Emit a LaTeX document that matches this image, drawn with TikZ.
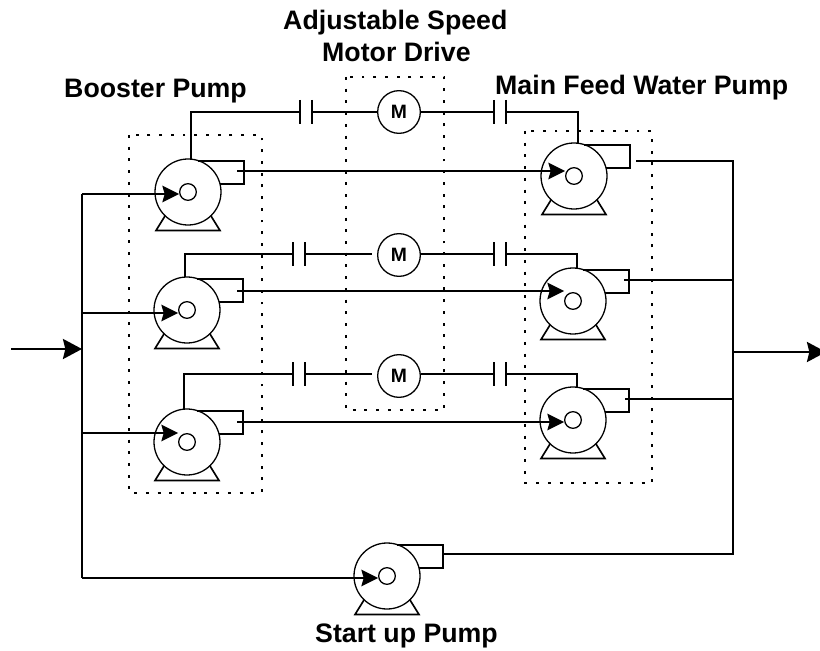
\documentclass[tikz,border=0pt]{standalone}
\usepackage{fontspec}
\setmainfont{Liberation Sans}
\usetikzlibrary{arrows.meta, calc}
\tikzset{
  wire/.style={line width=1.4pt},
  flow/.style={line width=1.4pt, -{Stealth[length=5mm, width=5mm, inset=0.7mm]}},
  trunk/.style={line width=2.2pt, -{Stealth[length=5.7mm, width=6mm, inset=0.7mm]}},
  group/.style={line width=1.7pt, dash pattern=on 2.5pt off 7.5pt},
  casing/.style={circle, draw, line width=1.1pt, minimum size=1.98cm, inner sep=0pt},
  hub/.style={circle, draw, line width=1.1pt, minimum size=0.5cm, inner sep=0pt},
  motor/.style={circle, draw, line width=1.1pt, minimum size=1.28cm, inner sep=0pt, font=\bfseries\fontsize{16.5}{16.5}\selectfont},
  caption/.style={font=\bfseries\fontsize{22.8}{26}\selectfont, anchor=base west, inner sep=0pt},
}
% pump symbol: name, centre x, centre y
\newcommand{\pumpsym}[3]{
  \node[casing] (#1) at (#2,#3) {};
  \node[hub] (#1hub) at (#2,#3) {};
  \draw[wire] ($(#1)+(10,-31)$) -- ++(46,0) -- ++(0,23) -- ++(-24,0);
  \draw[wire] ($(#1)+(-23,24)$) -- ($(#1)+(-32,38.5)$) -- ($(#1)+(32,38.5)$) -- ($(#1)+(23,24)$);
}
% clutch plates: name, x of left plate, y
\newcommand{\clutch}[3]{
  \coordinate (#1l) at (#2,#3);
  \coordinate (#1r) at (#2+12,#3);
  \draw[wire] (#2,#3-12) -- (#2,#3+12);
  \draw[wire] (#2+12,#3-12) -- (#2+12,#3+12);
}
\begin{document}
\begin{tikzpicture}[x=0.03cm, y=-0.03cm]
\useasboundingbox (0,0) rectangle (820,651);
% dotted groups
\draw[group] (129,135) rectangle (262,493);
\draw[group] (346,77) rectangle (444,410);
\draw[group] (525,131) rectangle (652,483);
% booster pumps
\pumpsym{boostA}{188}{192}
\pumpsym{boostB}{187}{310}
\pumpsym{boostC}{187}{442}
% main feed pumps
\pumpsym{feedA}{574}{176}
\pumpsym{feedB}{573}{301}
\pumpsym{feedC}{573}{420}
% start up pump
\pumpsym{startup}{387}{576}
% motors and clutches
\foreach \n/\y in {A/112, B/255, C/376} {
  \node[motor] (motor\n) at (399,\y) {M};
}
\clutch{lA}{300}{112}
\clutch{rA}{494}{112}
\clutch{lB}{293}{254}
\clutch{rB}{494}{254}
\clutch{lC}{293}{374}
\clutch{rC}{494}{374}
% shafts
\coordinate (shaftA) at (191,160);
\coordinate (shaftB) at (185,277);
\coordinate (shaftC) at (184,409);
\coordinate (shaftD) at (578,143);
\coordinate (shaftE) at (577,268);
\coordinate (shaftF) at (577,387);
\draw[wire] (shaftA) -- (shaftA |- lAl) -- (lAl);
\draw[wire] (lAr) -- (motorA.west |- lAr);
\draw[wire] (motorA.east |- rAl) -- (rAl);
\draw[wire] (rAr) -- (shaftD |- rAr) -- (shaftD);
\draw[wire] (shaftB) -- (shaftB |- lBl) -- (lBl);
\draw[wire] (lBr) -- ($(motorB.west |- lBr)+(-5,0)$);
\draw[wire] (motorB.east |- rBl) -- (rBl);
\draw[wire] (rBr) -- (shaftE |- rBr) -- (shaftE);
\draw[wire] (shaftC) -- (shaftC |- lCl) -- (lCl);
\draw[wire] (lCr) -- ($(motorC.west |- lCr)+(-5,0)$);
\draw[wire] (motorC.east |- rCl) -- (rCl);
\draw[wire] (rCr) -- (shaftF |- rCr) -- (shaftF);
% suction header
\coordinate (inlet) at (11,349);
\coordinate (inhead) at (82,349);
\coordinate (outhead) at (733,352);
\coordinate (outlet) at (826,352);
\coordinate (sucA) at (82,194);
\coordinate (sucB) at (82,313);
\coordinate (sucC) at (82,433);
\coordinate (sucS) at (82,578);
\draw[trunk] (inlet) -- (inhead);
\draw[wire] (sucA) -- (sucS);
\draw[flow] (sucA) -- (boostAhub.west |- sucA);
\draw[flow] (sucB) -- (boostBhub.west |- sucB);
\draw[flow] (sucC) -- (boostChub.west |- sucC);
\draw[flow] (sucS) -- (startuphub.west |- sucS);
% booster to main feed
\coordinate (dischA) at (237,171);
\coordinate (dischB) at (237,291);
\coordinate (dischC) at (237,422);
\draw[flow] (dischA) -- (feedAhub.west |- dischA);
\draw[flow] (dischB) -- (feedBhub.west |- dischB);
\draw[flow] (dischC) -- (feedChub.west |- dischC);
% discharge header
\coordinate (feedAout) at (636,161);
\coordinate (feedBout) at (624,280);
\coordinate (feedCout) at (625,399);
\coordinate (startout) at (444,554);
\draw[wire] (feedAout) -- (outhead |- feedAout) -- (outhead |- startout) -- (startout);
\draw[wire] (feedBout) -- (outhead |- feedBout);
\draw[wire] (feedCout) -- (outhead |- feedCout);
\draw[trunk] (outhead) -- (outlet);
% labels
\node[caption] (drivetop) at (283,30) {Adjustable Speed};
\node[caption] (drivebot) at (322,62) {Motor Drive};
\node[caption] (boostlabel) at (64,98) {Booster Pump};
\node[caption] (feedlabel) at (495,95) {Main Feed Water Pump};
\node[caption] (startlabel) at (315,642) {Start up Pump};
\end{tikzpicture}
\end{document}
